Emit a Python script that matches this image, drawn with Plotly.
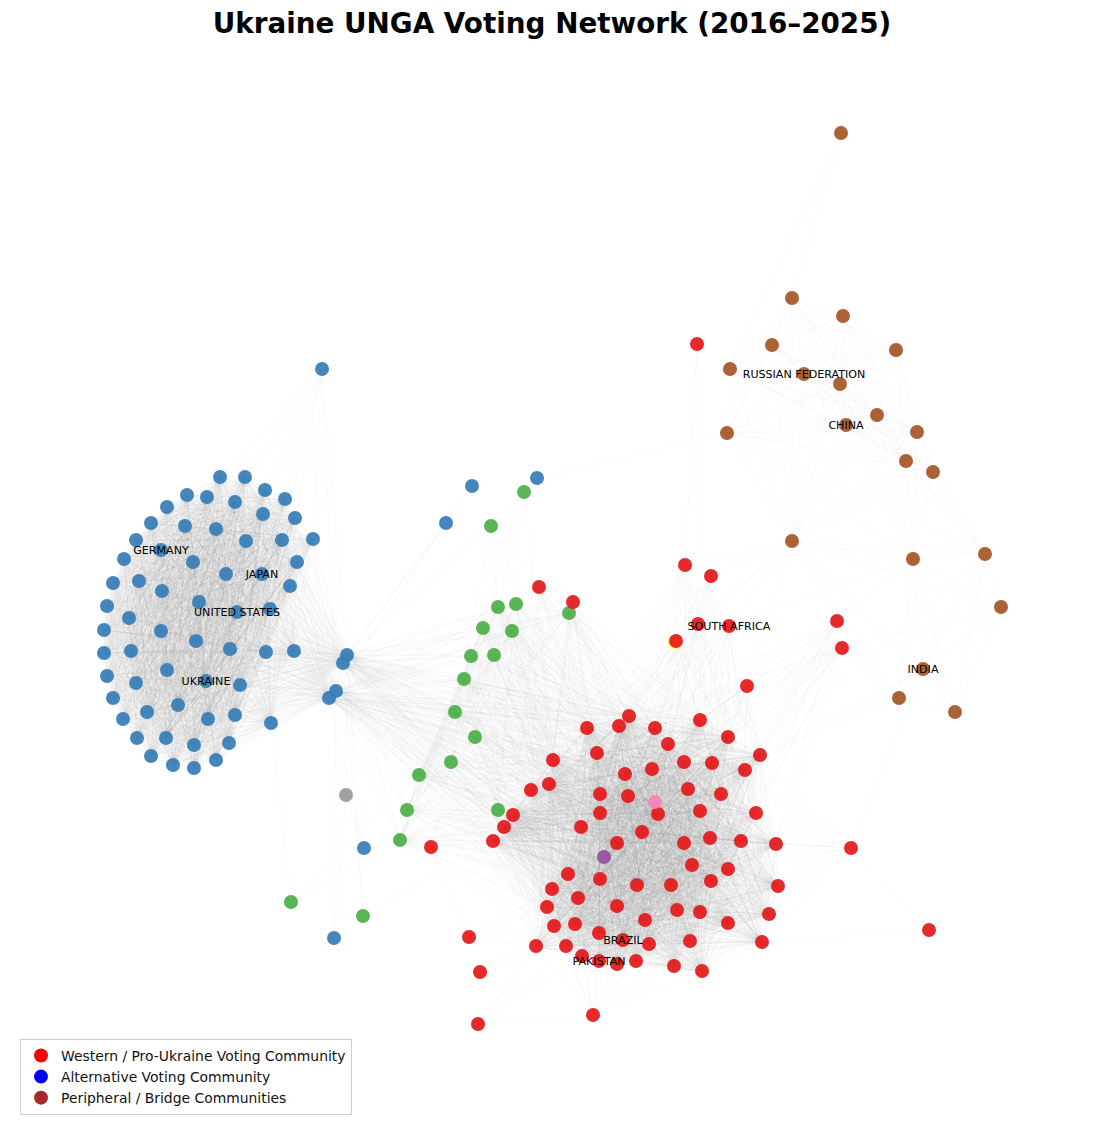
import plotly.graph_objects as go

# node positions, axes run 0-1105 / 1128-0
blue_main = [(220,477),(245,477),(265,490),(285,499),(295,518),(313,539),(297,562),(290,586),(270,609),(237,612),
             (199,602),(226,574),(262,574),(282,540),(246,541),(216,529),(185,526),(193,562),(161,550),(136,540),
             (151,523),(167,507),(187,495),(207,497),(235,502),(263,514),(124,559),(113,583),(139,581),(162,591),
             (107,606),(129,618),(161,631),(104,630),(104,653),(131,651),(196,641),(230,649),(266,652),(294,651),
             (167,670),(107,676),(136,683),(206,681),(240,685),(113,698),(178,705),(147,712),(123,719),(208,719),
             (235,715),(137,738),(166,738),(194,745),(229,743),(151,756),(173,765),(194,768),(216,760),(271,723)]
blue_bridge = [(347,655),(343,663),(336,691),(329,698)]
blue_far = [(322,369),(472,486),(537,478),(446,523),(364,848),(334,938)]
green_chain = [(498,607),(516,604),(569,613),(483,628),(512,631),(471,656),(494,655),(464,679),
               (455,712),(475,737),(451,762),(419,775),(407,810),(498,810),(400,840)]
green_far = [(524,492),(491,526),(291,902),(363,916)]
red_core = [(629,716),(587,728),(619,726),(655,728),(700,720),(668,744),(728,737),(597,753),(760,755),(553,760),
            (684,762),(712,763),(745,770),(652,769),(625,774),(549,784),(531,790),(688,789),(721,794),(600,794),
            (628,796),(700,811),(756,813),(600,813),(658,814),(513,815),(504,827),(581,827),(642,832),(493,841),
            (617,843),(684,843),(710,838),(741,841),(776,844),(692,865),(728,869),(568,874),(600,879),(711,881),
            (637,885),(671,885),(778,886),(552,889),(578,898),(547,907),(617,906),(677,910),(700,912),(769,914),
            (645,920),(728,923),(554,926),(575,924),(599,933),(623,940),(690,941),(762,942),(649,944),(536,946),
            (566,946),(582,956),(599,961),(617,964),(636,961),(674,966),(702,971)]
red_outer = [(685,565),(711,576),(539,587),(573,602),(698,624),(729,626),(676,641),(837,621),(842,648),
             (747,686),(851,848),(593,1015)]
red_sparse = [(697,344),(431,847),(469,937),(480,972),(478,1024),(929,930)]
brown_top = [(792,298),(843,316),(772,345),(896,350),(730,369),(804,374),(840,384),(877,415),(846,425),(917,432),
             (727,433),(906,461),(933,472)]
brown_low = [(792,541),(913,559),(985,554),(1001,607),(923,669),(899,698),(955,712)]
brown_far = [(841,133)]
gray_node = [(346,795)]
pink_node = [(655,802)]
purple_node = [(604,857)]
yellow_node = [(675,642)]

label_names = ["UNITED STATES","GERMANY","JAPAN","UKRAINE","RUSSIAN FEDERATION","CHINA","SOUTH AFRICA","INDIA","BRAZIL","PAKISTAN"]
label_x = [237,161,262,206,804,846,729,923,623,599]
label_y = [613,551,575,682,375,426,627,670,941,962]

legend_names = ["Western / Pro-Ukraine Voting Community","Alternative Voting Community","Peripheral / Bridge Communities"]
legend_colors = ["red","blue","brown"]

# the few long links that can be followed by eye
sparse_edges = [((727,433),(537,478)),((537,478),(524,492)),((524,492),(491,526)),((472,486),(347,655)),((472,486),(343,663)),
                ((446,523),(347,655)),((446,523),(329,698)),((446,523),(336,691)),((537,478),(347,655)),((322,369),(347,655)),
                ((322,369),(336,691)),((364,848),(347,655)),((364,848),(329,698)),((364,848),(346,795)),((334,938),(336,691)),
                ((334,938),(346,795)),((346,795),(347,655)),((346,795),(329,698)),((291,902),(271,723)),((291,902),(400,840)),
                ((291,902),(419,775)),((363,916),(493,841)),((363,916),(347,655)),((363,916),(343,663)),((431,847),(451,762)),
                ((431,847),(407,810)),((841,133),(792,298)),((841,133),(730,369)),((697,344),(685,565)),((697,344),(698,624)),
                ((792,541),(685,565)),((792,541),(711,576)),((792,541),(729,626)),((792,541),(698,624)),((792,541),(676,641)),
                ((792,541),(837,621)),((792,541),(747,686)),((985,554),(760,755)),((1001,607),(842,648)),((913,559),(729,626)),
                ((923,669),(760,755)),((923,669),(745,770)),((899,698),(760,755)),((899,698),(842,648)),((955,712),(923,669)),
                ((837,621),(913,559)),((842,648),(899,698)),((851,848),(929,930)),((929,930),(762,942)),((851,848),(923,669)),
                ((539,587),(573,602)),((539,587),(498,607)),((573,602),(516,604)),((469,937),(431,847)),((478,1024),(593,1015)),
                ((491,526),(347,655)),((491,526),(343,663)),((491,526),(498,607)),((491,526),(569,613)),((524,492),(498,607)),
                ((524,492),(464,679)),((491,526),(455,712)),((491,526),(587,728)),((524,492),(553,760))]

core_edges = {}
edges = {}

def clique(nodes, store):
    for i, a in enumerate(nodes):
        for b in nodes[i + 1:]:
            store.setdefault(a, []).append(b)

def cross(left, right, store):
    for a in left:
        for b in right:
            store.setdefault(a, []).append(b)

def nearest(node, pool, k):
    return sorted(pool, key=lambda p: (p[0] - node[0]) ** 2 + (p[1] - node[1]) ** 2)[:k]

red_all = red_core + pink_node + purple_node
clique(blue_main, core_edges)
clique(red_all, core_edges)
clique(blue_bridge, edges)
cross(blue_bridge, blue_main, edges)
cross(blue_bridge, green_chain, edges)
cross(blue_bridge, red_core[::2], edges)
clique(green_chain, edges)
cross(green_chain, red_core[::3], edges)
for n in red_outer:
    cross([n], nearest(n, red_all, 18), edges)
for n in red_sparse[1:5]:
    cross([n], nearest(n, red_all, 4), edges)
clique(brown_top, edges)
cross(brown_low[:1], brown_top, edges)
clique(brown_low, edges)
cross(brown_low[1:3], brown_top[6:], edges)
cross(blue_far[:1], nearest(blue_far[0], blue_main, 10), edges)
for a, b in sparse_edges:
    edges.setdefault(a, []).append(b)

fig = go.Figure()

# one trace per hub so that overlapping edges build up the darker grey
def add_edges(store, color, width):
    for hub, targets in store.items():
        xs, ys = [], []
        for t in targets:
            xs += [hub[0], t[0], None]
            ys += [hub[1], t[1], None]
        fig.add_trace(go.Scatter(x=xs, y=ys, mode="lines", line=dict(color=color, width=width, simplify=False),
                                 hoverinfo="skip", showlegend=False))

add_edges(edges, "rgba(120,120,120,0.07)", 0.55)
add_edges(core_edges, "rgba(120,120,120,0.085)", 0.6)

def add_nodes(nodes, color):
    fig.add_trace(go.Scatter(x=[p[0] for p in nodes], y=[p[1] for p in nodes], mode="markers",
                             marker=dict(color=color, size=14, opacity=0.93, line=dict(width=0)),
                             hoverinfo="skip", showlegend=False))

add_nodes(yellow_node, "#ffff33")
add_nodes(blue_main + blue_bridge + blue_far, "#377eb8")
add_nodes(green_chain + green_far, "#4daf4a")
add_nodes(red_core + red_outer + red_sparse, "#e41a1c")
add_nodes(brown_top + brown_low + brown_far, "#a65628")
add_nodes(gray_node, "#999999")
add_nodes(purple_node, "#984ea3")
add_nodes(pink_node, "#f781bf")

fig.add_trace(go.Scatter(x=label_x, y=label_y, text=label_names, mode="text", textposition="middle center",
                         textfont=dict(family="DejaVu Sans", size=11.1, color="black"), hoverinfo="skip", showlegend=False))

for name, color in zip(legend_names, legend_colors):
    fig.add_trace(go.Scatter(x=[None], y=[None], mode="markers", name=name, marker=dict(color=color, size=14)))

fig.update_layout(
    width=1105, height=1128, margin=dict(l=0, r=0, t=0, b=0),
    paper_bgcolor="white", plot_bgcolor="white",
    xaxis=dict(range=[0, 1105], visible=False),
    yaxis=dict(range=[1128, 0], visible=False),
    title=dict(text="<b>Ukraine UNGA Voting Network (2016–2025)</b>", x=0.4995, xanchor="center", y=1 - 23 / 1128, yanchor="middle",
               font=dict(family="DejaVu Sans", size=27.8, color="black")),
    legend=dict(x=20 / 1105, xanchor="left", y=1 - 1115 / 1128, yanchor="bottom", bgcolor="rgba(255,255,255,0.8)",
                bordercolor="#cccccc", borderwidth=1, font=dict(family="DejaVu Sans", size=13.9, color="#111111")),
)

fig.write_html("out.html", post_script="document.body.style.margin='0';", config=dict(displayModeBar=False))
